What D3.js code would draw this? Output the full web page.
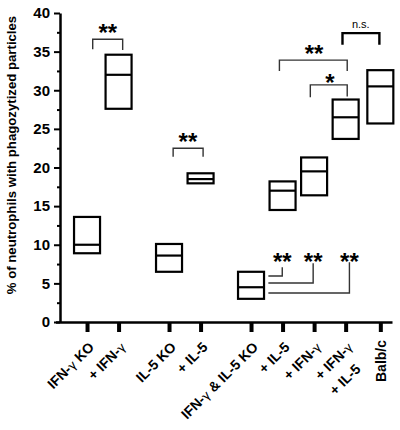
<!DOCTYPE html>
<html><head><meta charset="utf-8">
<script src="https://cdn.jsdelivr.net/npm/d3@7"></script>
<style>body{margin:0;background:#fff}svg{display:block}</style>
</head><body><svg id="c" width="400" height="430"></svg>
<script>
const categories = [["IFN-|γ| KO"],["+ IFN-|γ|"],["IL-5 KO"],["+ IL-5"],["IFN-|γ| & IL-5 KO"],["+ IL-5"],["+ IFN-|γ|"],["+ IFN-|γ|","+ IL-5"],["Balb/c"]];
const labelAngles = [-45,-45,-45,-45,-45,-45,-45,-45,-90];
const slots = [0,1,2.6,3.6,5.2,6.2,7.2,8.2,9.3];
const lows    = [8.9, 27.6, 6.5, 17.95, 3.0, 14.5, 16.4, 23.7, 25.7];
const medians = [10.0, 32.0, 8.6, 18.5, 4.5, 17.0, 19.5, 26.5, 30.5];
const highs   = [13.6, 34.6, 10.1, 19.25, 6.5, 18.2, 21.3, 28.8, 32.6];
const yTicks = [0,5,10,15,20,25,30,35,40];
const yMinor = [2.5,7.5,12.5,17.5,22.5,27.5,32.5,37.5];
// brackets: x1,x2 in slot units, top value, leg bottom values, label, label pos, heavy
const brackets = [
  {x1:0.18,x2:1.13,top:36.6,l1:35.3,l2:35.2,label:"**",lx:0.66,ly:38.0,heavy:false},
  {x1:2.73,x2:3.68,top:22.5,l1:21.4,l2:21.4,label:"**",lx:3.2,ly:23.9,heavy:false},
  {x1:6.1,x2:8.25,top:33.9,l1:32.5,l2:32.5,label:"**",lx:7.2,ly:35.3,heavy:false},
  {x1:7.08,x2:8.25,top:30.7,l1:29.1,l2:29.2,label:"*",lx:7.7,ly:31.6,heavy:false},
  {x1:8.1,x2:9.27,top:37.4,l1:35.9,l2:35.9,label:"n.s.",lx:8.68,ly:38.0,heavy:true}
];
// lower connectors from the double-KO box
const connStart = 5.75;
const connectors = [
  {x2:6.19,yv:5.95,up:7.1,label:"**",ly:8.4},
  {x2:7.17,yv:5.05,up:7.6,label:"**",ly:8.4},
  {x2:8.32,yv:3.75,up:7.75,label:"**",ly:8.4}
];

const svg = d3.select("#c");
const y = d3.scaleLinear().domain([0,40]).range([322,13]);
const x = d3.scaleLinear().domain([-1,9.67]).range([55.5,392]);
const FONT = "Liberation Sans, Arial, sans-serif";
const bw = 26;

// y axis
const ya = svg.append("g").attr("transform","translate(60,0)")
  .call(d3.axisLeft(y).tickValues(yTicks).tickSize(6).tickPadding(4).tickSizeOuter(0));
ya.select(".domain").attr("stroke","#000").attr("stroke-width",2.5);
ya.selectAll(".tick line").attr("stroke","#000").attr("stroke-width",2);
ya.selectAll(".tick text").attr("font-family",FONT).attr("font-weight","bold").attr("font-size",15).attr("fill","#000");
const ym = svg.append("g").attr("transform","translate(60,0)")
  .call(d3.axisLeft(y).tickValues(yMinor).tickSize(3).tickFormat(""));
ym.select(".domain").remove();
ym.selectAll(".tick line").attr("stroke","#000").attr("stroke-width",2);

// x axis
const xa = svg.append("g").attr("transform",`translate(0,${y(0)})`)
  .call(d3.axisBottom(x).tickValues(slots).tickSize(10).tickFormat("").tickSizeOuter(0));
xa.select(".domain").attr("stroke","#000").attr("stroke-width",2.5);
xa.selectAll(".tick line").attr("stroke","#000").attr("stroke-width",4);

// x labels
categories.forEach((lines,i)=>{
  const a = labelAngles[i];
  const tx = a===-90 ? x(slots[i])+6 : x(slots[i])+8;
  const ty = a===-90 ? y(0)+18 : y(0)+26;
  const t = svg.append("text")
    .attr("transform",`translate(${tx},${ty}) rotate(${a})`)
    .attr("text-anchor","end").attr("font-family",FONT).attr("font-weight","bold")
    .attr("font-size",14).attr("fill","#000");
  lines.forEach((ln,j)=>{
    const parts = ln.split("|");
    parts.forEach((p,k)=>{
      const ts = t.append("tspan").text(p);
      if(k===0){ ts.attr("x", j===0?0:-10).attr("dy", j===0? "0":"1.5em"); }
      if(k%2===1){ ts.attr("font-weight","normal").attr("font-family","DejaVu Sans, sans-serif").attr("font-size",12); }
    });
  });
});

// y title
svg.append("text").attr("transform","translate(16,155) rotate(-90)")
  .attr("text-anchor","middle").attr("font-family",FONT).attr("font-weight","bold")
  .attr("font-size",13.2).attr("fill","#000")
  .text("% of neutrophils with phagozytized particles");

// boxes
const g = svg.append("g");
slots.forEach((s,i)=>{
  g.append("rect").attr("x",x(s)-bw/2).attr("y",y(highs[i])).attr("width",bw)
    .attr("height",y(lows[i])-y(highs[i])).attr("fill","none").attr("stroke","#000").attr("stroke-width",2.2);
  g.append("line").attr("x1",x(s)-bw/2).attr("x2",x(s)+bw/2).attr("y1",y(medians[i])).attr("y2",y(medians[i]))
    .attr("stroke","#000").attr("stroke-width",2.2);
});

// brackets
brackets.forEach(b=>{
  svg.append("path").attr("d",`M${x(b.x1)},${y(b.l1)}V${y(b.top)}H${x(b.x2)}V${y(b.l2)}`)
    .attr("fill","none").attr("stroke", b.heavy?"#000":"#333").attr("stroke-width", b.heavy?2.4:1.4);
  if(b.label==="n.s."){
    svg.append("text").attr("x",x(b.lx)).attr("y",y(b.ly)).attr("text-anchor","middle")
      .attr("font-family",FONT).attr("font-size",11).attr("fill","#000").text(b.label);
  } else {
    svg.append("text").attr("x",x(b.lx)).attr("y",y(b.ly)+13).attr("text-anchor","middle")
      .attr("font-family",FONT).attr("font-weight","bold").attr("font-size",24).attr("fill","#000").text(b.label);
  }
});
connectors.forEach(c=>{
  svg.append("path").attr("d",`M${x(connStart)},${y(c.yv)}H${x(c.x2)}V${y(c.up)}`)
    .attr("fill","none").attr("stroke","#333").attr("stroke-width",1.4);
  svg.append("text").attr("x",x(c.x2)).attr("y",y(c.ly)+13).attr("text-anchor","middle")
    .attr("font-family",FONT).attr("font-weight","bold").attr("font-size",24).attr("fill","#000").text(c.label);
});
</script></body></html>
